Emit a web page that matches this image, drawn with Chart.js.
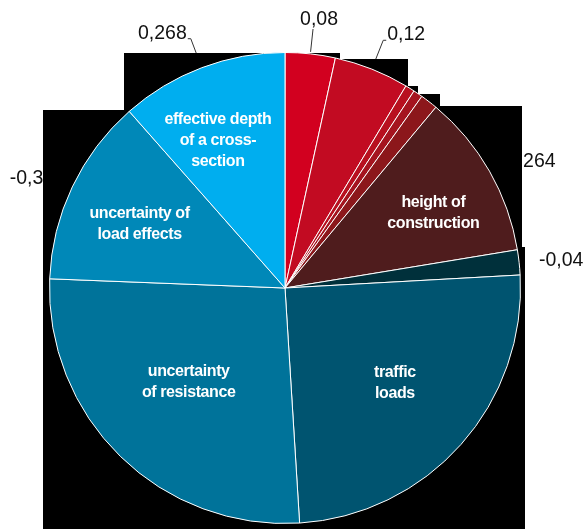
<!DOCTYPE html>
<html>
<head>
<meta charset="utf-8">
<script src="https://cdn.jsdelivr.net/npm/chart.js@4"></script>
<style>
  body { margin: 0; background: #fff; }
  canvas { display: block; }
</style>
</head>
<body>
<canvas id="sens-chart" width="583" height="529"></canvas>
<script>
// sensitivity factors, clockwise from 12 o'clock
const categories = [
  "", "", "", "", "",
  "height of construction", "", "traffic loads",
  "uncertainty of resistance", "uncertainty of load effects",
  "effective depth of a cross-section"
]
const labelLines = [
  [], [], [], [], [],
  ["height of", "construction"], [], ["traffic", "loads"],
  ["uncertainty", "of resistance"], ["uncertainty of", "load effects"],
  ["effective depth", "of a cross-", "section"]
]
const values = [0.08, 0.12, 0.015, 0.015, 0.028, 0.264, -0.04, 0.58, 0.62, -0.30, 0.268]
const colors = [
  "#d2001f", "#c20b22", "#b8101f", "#a5141f", "#8c171b",
  "#4f1c1d", "#00303b", "#005470", "#00739a", "#0088b8", "#00aeef"
]

// inner label placement: [radius fraction, angle nudge in degrees]
const innerPos = [
  null, null, null, null, null,
  [0.706, 2.9], null, [0.616, -0.9],
  [0.572, 1.3], [0.675, -1.6], [0.687, -3.8]
]

// black card behind the pie
const backdrop = [
  [124, 53], [340, 53], [340, 59], [408, 59], [408, 86], [418, 86],
  [418, 94], [440, 94], [440, 106], [522, 106], [522, 247], [525, 247],
  [525, 529], [43, 529], [43, 110], [124, 110]
]

function fmt(v) {
  let s = v.toFixed(3)
  if (s.endsWith("0")) s = v.toFixed(2)
  return s.replace(".", ",")
}

const pieLabels = {
  id: "pieLabels",
  beforeDatasetsDraw(chart) {
    const ctx = chart.ctx
    const arcs = chart.getDatasetMeta(0).data
    ctx.save()
    ctx.font = '19.5px "Liberation Sans", Arial, sans-serif'
    ctx.fillStyle = "#111"
    ctx.strokeStyle = "#333"
    ctx.lineWidth = 1
    arcs.forEach((arc, i) => {
      const v = values[i]
      if (Math.abs(v) < 0.03) return
      const { x, y, startAngle, endAngle, outerRadius } = arc.getProps(["x", "y", "startAngle", "endAngle", "outerRadius"], true)
      const R = outerRadius
      const mid = (startAngle + endAngle) / 2
      const cx = Math.cos(mid), sy = Math.sin(mid)
      const text = fmt(v)
      if (sy < 0 && Math.abs(cx) < 0.8) {
        // leader line for labels above the pie
        const topish = Math.abs(cx) < 0.2
        const r = R + (topish ? 25 : 31)
        const ex = x + cx * r, ey = y + sy * r
        ctx.beginPath()
        ctx.moveTo(x + cx * (R + 2), y + sy * (R + 2))
        ctx.lineTo(ex, ey)
        ctx.textBaseline = "alphabetic"
        if (topish) {
          ctx.stroke()
          ctx.textAlign = "center"
          ctx.fillText(text, ex + 6, ey - 4)
        } else {
          const dir = cx > 0 ? 1 : -1
          ctx.lineTo(ex + dir * 3, ey)
          ctx.stroke()
          ctx.textAlign = dir > 0 ? "left" : "right"
          ctx.fillText(text, ex + dir * 4, ey)
        }
      } else {
        const r = R + 20
        ctx.textAlign = cx > 0 ? "left" : "right"
        ctx.textBaseline = "middle"
        ctx.fillText(text, x + cx * r, y + sy * r)
      }
    })
    ctx.fillStyle = "#000"
    ctx.beginPath()
    backdrop.forEach(([px, py], k) => k ? ctx.lineTo(px, py) : ctx.moveTo(px, py))
    ctx.closePath()
    ctx.fill()
    ctx.restore()
  },
  afterDatasetsDraw(chart) {
    const ctx = chart.ctx
    const arcs = chart.getDatasetMeta(0).data
    ctx.save()
    ctx.font = 'bold 16px "Liberation Sans", Arial, sans-serif'
    if ("letterSpacing" in ctx) ctx.letterSpacing = "-0.4px"
    ctx.fillStyle = "#fff"
    ctx.textAlign = "center"
    ctx.textBaseline = "middle"
    arcs.forEach((arc, i) => {
      const lines = labelLines[i]
      if (!lines.length || !innerPos[i]) return
      const { x, y, startAngle, endAngle, outerRadius } = arc.getProps(["x", "y", "startAngle", "endAngle", "outerRadius"], true)
      const [frac, nudge] = innerPos[i]
      const a = (startAngle + endAngle) / 2 + nudge * Math.PI / 180
      const lx = x + Math.cos(a) * outerRadius * frac
      const ly = y + Math.sin(a) * outerRadius * frac
      const lh = 21
      lines.forEach((line, k) => {
        ctx.fillText(line, lx, ly + (k - (lines.length - 1) / 2) * lh)
      })
    })
    ctx.restore()
  }
}

new Chart(document.getElementById("sens-chart"), {
  type: "pie",
  data: {
    labels: categories,
    datasets: [{
      data: values.map(v => Math.abs(v)),
      backgroundColor: colors,
      borderColor: "#ffffff",
      borderWidth: 1,
      hoverOffset: 0,
      offset: 0
    }]
  },
  options: {
    responsive: false,
    animation: false,
    layout: { padding: { top: 52, bottom: 5, left: 49, right: 62 } },
    plugins: {
      legend: { display: false },
      tooltip: { enabled: false }
    }
  },
  plugins: [pieLabels]
})
</script>
</body>
</html>
